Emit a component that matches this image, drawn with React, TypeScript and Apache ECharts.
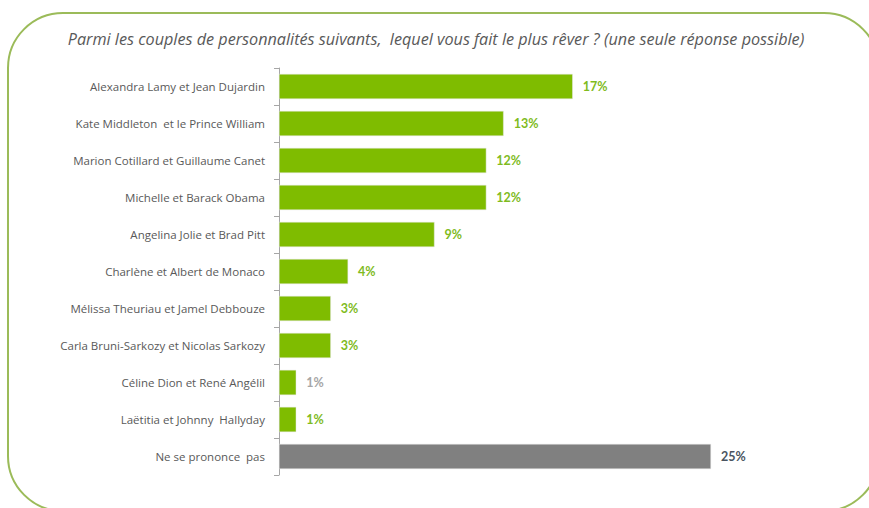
import React, { useEffect, useRef } from "react";
import * as echarts from "echarts";

const categories = [
  "Alexandra Lamy et Jean Dujardin",
  "Kate Middleton  et le Prince William",
  "Marion Cotillard et Guillaume Canet",
  "Michelle et Barack Obama",
  "Angelina Jolie et Brad Pitt",
  "Charlène et Albert de Monaco",
  "Mélissa Theuriau et Jamel Debbouze",
  "Carla Bruni-Sarkozy et Nicolas Sarkozy",
  "Céline Dion et René Angélil",
  "Laëtitia et Johnny  Hallyday",
  "Ne se prononce  pas",
];
const values = [17, 13, 12, 12, 9, 4, 3, 3, 1, 1, 25];
const titleText =
  "Parmi les couples de personnalités suivants,  lequel vous fait le plus rêver ? (une seule réponse possible)";

const GREEN = "#7fbc00";
const GREY = "#808080";
const FONT = "'Open Sans', Lato, sans-serif";
const VFONT = "Lato, 'Open Sans', sans-serif";

export default function App() {
  const ref = useRef<HTMLDivElement>(null);
  useEffect(() => {
    if (!ref.current) return;
    const chart = echarts.init(ref.current, undefined, { renderer: "svg" });
    const lastIdx = categories.length - 1;
    chart.setOption({
      animation: false,
      backgroundColor: "#ffffff",
      title: {
        text: titleText,
        left: 431,
        textAlign: "center",
        top: 26,
        textStyle: {
          fontFamily: FONT,
          fontStyle: "italic",
          fontWeight: "normal",
          fontSize: 16.2,
          color: "#595959",
        },
      },
      graphic: [
        {
          type: "rect",
          shape: { x: 8, y: 13, width: 871, height: 498, r: 55 },
          style: { fill: "none", stroke: "#9bbb59", lineWidth: 2 },
          silent: true,
        },
      ],
      grid: { left: 279, top: 68, width: 432, height: 407, containLabel: false },
      xAxis: {
        type: "value",
        min: 0,
        max: 25,
        show: false,
      },
      yAxis: {
        type: "category",
        inverse: true,
        data: categories,
        axisLine: { show: true, lineStyle: { color: "#a6a6a6", width: 1 } },
        axisTick: { show: true, inside: false, length: 5, lineStyle: { color: "#a6a6a6" } },
        axisLabel: {
          margin: 14,
          fontFamily: FONT,
          fontSize: 11.5,
          color: "#595959",
        },
      },
      series: [
        {
          type: "bar",
          data: values,
          barCategoryGap: "32%",
          itemStyle: {
            color: (p: any) => (p.dataIndex === lastIdx ? GREY : GREEN),
            borderColor: "#e6e6e6",
            borderWidth: 0.5,
          },
          label: {
            show: true,
            position: "right",
            distance: 10,
            fontFamily: VFONT,
            fontSize: 12,
            fontWeight: "bold",
            formatter: (p: any) => {
              if (p.dataIndex === lastIdx) return `{d|${p.value}%}`;
              if (p.name.startsWith("Céline")) return `{g|${p.value}%}`;
              return `{v|${p.value}%}`;
            },
            rich: {
              v: { color: "#80bb1e", fontFamily: VFONT, fontSize: 12.5, fontWeight: "bold" },
              g: { color: "#a6a6a6", fontFamily: VFONT, fontSize: 12.5, fontWeight: "bold" },
              d: { color: "#4a5460", fontFamily: VFONT, fontSize: 12.5, fontWeight: "bold" },
            },
          },
        },
      ],
    });
    return () => chart.dispose();
  }, []);
  return (
    <div
      ref={ref}
      style={{ position: "absolute", left: 0, top: 0, width: 869, height: 508 }}
    />
  );
}
